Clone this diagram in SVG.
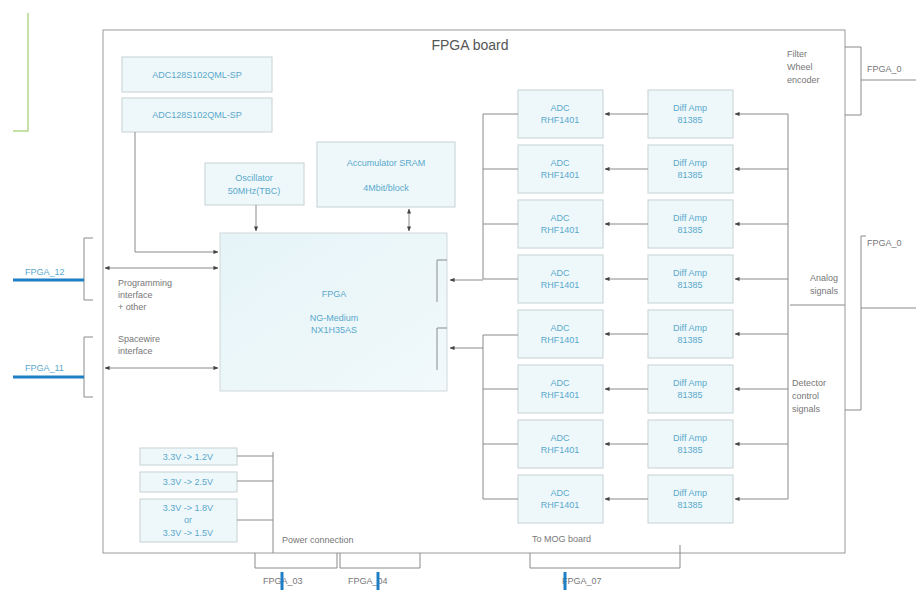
<svg xmlns="http://www.w3.org/2000/svg" width="916" height="590" viewBox="0 0 916 590">
<style>
.box{fill:#eef8fa;stroke:#c6d2d5;stroke-width:1}
.bt{font-family:"Liberation Sans",Arial,sans-serif;font-size:9px;fill:#5aa8cc;text-anchor:middle}
.lbl{font-family:"Liberation Sans",Arial,sans-serif;font-size:9px;fill:#777}
.ln{fill:none;stroke:#8a8a8a;stroke-width:1}
.blue{fill:none;stroke:#1f7fc4;stroke-width:3}
</style>
<defs>
<marker id="ah" viewBox="0 0 6 6" refX="5.5" refY="3" markerWidth="5" markerHeight="5" orient="auto-start-reverse">
<path d="M0,0.5 L6,3 L0,5.5 Z" fill="#444"/>
</marker>
<linearGradient id="fg" x1="0" y1="0" x2="1" y2="1">
<stop offset="0" stop-color="#e6f4f7"/>
<stop offset="1" stop-color="#f1f9fb"/>
</linearGradient>
</defs>
<rect width="916" height="590" fill="#fff"/>
<g id="board">
<rect x="103" y="30" width="742" height="523" fill="none" stroke="#9a9a9a" stroke-width="1"/>
<text x="470" y="50" font-family="'Liberation Sans',Arial,sans-serif" font-size="14" fill="#555" text-anchor="middle">FPGA board</text>
</g>
<g id="adc128a"><rect class="box" x="122" y="57" width="150" height="35"/><text class="bt" x="197" y="78">ADC128S102QML-SP</text></g>
<g id="adc128b"><rect class="box" x="122" y="98" width="150" height="34"/><text class="bt" x="197" y="118">ADC128S102QML-SP</text></g>
<g id="osc"><rect class="box" x="205" y="163" width="99" height="42"/><text class="bt" x="254" y="181">Oscillator</text><text class="bt" x="254" y="194">50MHz(TBC)</text></g>
<g id="sram"><rect class="box" x="317" y="142" width="138" height="65"/><text class="bt" x="386" y="166">Accumulator SRAM</text><text class="bt" x="386" y="191">4Mbit/block</text></g>
<g id="fpga"><rect x="220" y="233" width="227" height="158" fill="url(#fg)" stroke="#cfd8da"/><text class="bt" x="334" y="297">FPGA</text><text class="bt" x="334" y="321">NG-Medium</text><text class="bt" x="334" y="333">NX1H35AS</text></g>
<g id="adcs">
<g id="adc1"><rect class="box" x="518" y="90" width="85" height="48"/><text class="bt" x="560" y="111">ADC</text><text class="bt" x="560" y="123">RHF1401</text></g>
<g id="adc2"><rect class="box" x="518" y="145" width="85" height="48"/><text class="bt" x="560" y="166">ADC</text><text class="bt" x="560" y="178">RHF1401</text></g>
<g id="adc3"><rect class="box" x="518" y="200" width="85" height="48"/><text class="bt" x="560" y="221">ADC</text><text class="bt" x="560" y="233">RHF1401</text></g>
<g id="adc4"><rect class="box" x="518" y="255" width="85" height="48"/><text class="bt" x="560" y="276">ADC</text><text class="bt" x="560" y="288">RHF1401</text></g>
<g id="adc5"><rect class="box" x="518" y="310" width="85" height="48"/><text class="bt" x="560" y="331">ADC</text><text class="bt" x="560" y="343">RHF1401</text></g>
<g id="adc6"><rect class="box" x="518" y="365" width="85" height="48"/><text class="bt" x="560" y="386">ADC</text><text class="bt" x="560" y="398">RHF1401</text></g>
<g id="adc7"><rect class="box" x="518" y="420" width="85" height="48"/><text class="bt" x="560" y="441">ADC</text><text class="bt" x="560" y="453">RHF1401</text></g>
<g id="adc8"><rect class="box" x="518" y="475" width="85" height="48"/><text class="bt" x="560" y="496">ADC</text><text class="bt" x="560" y="508">RHF1401</text></g>
</g>
<g id="amps">
<g id="amp1"><rect class="box" x="648" y="90" width="85" height="48"/><text class="bt" x="690" y="111">Diff Amp</text><text class="bt" x="690" y="123">81385</text></g>
<g id="amp2"><rect class="box" x="648" y="145" width="85" height="48"/><text class="bt" x="690" y="166">Diff Amp</text><text class="bt" x="690" y="178">81385</text></g>
<g id="amp3"><rect class="box" x="648" y="200" width="85" height="48"/><text class="bt" x="690" y="221">Diff Amp</text><text class="bt" x="690" y="233">81385</text></g>
<g id="amp4"><rect class="box" x="648" y="255" width="85" height="48"/><text class="bt" x="690" y="276">Diff Amp</text><text class="bt" x="690" y="288">81385</text></g>
<g id="amp5"><rect class="box" x="648" y="310" width="85" height="48"/><text class="bt" x="690" y="331">Diff Amp</text><text class="bt" x="690" y="343">81385</text></g>
<g id="amp6"><rect class="box" x="648" y="365" width="85" height="48"/><text class="bt" x="690" y="386">Diff Amp</text><text class="bt" x="690" y="398">81385</text></g>
<g id="amp7"><rect class="box" x="648" y="420" width="85" height="48"/><text class="bt" x="690" y="441">Diff Amp</text><text class="bt" x="690" y="453">81385</text></g>
<g id="amp8"><rect class="box" x="648" y="475" width="85" height="48"/><text class="bt" x="690" y="496">Diff Amp</text><text class="bt" x="690" y="508">81385</text></g>
</g>
<g id="pwr1"><rect class="box" x="140" y="448" width="97" height="17"/><text class="bt" x="188" y="460">3.3V -&gt; 1.2V</text></g>
<g id="pwr2"><rect class="box" x="140" y="472" width="97" height="20"/><text class="bt" x="188" y="485">3.3V -&gt; 2.5V</text></g>
<g id="pwr3"><rect class="box" x="140" y="499" width="97" height="43"/><text class="bt" x="188" y="511">3.3V -&gt; 1.8V</text><text class="bt" x="188" y="523">or</text><text class="bt" x="188" y="536">3.3V -&gt; 1.5V</text></g>
<g id="labels">
<text class="lbl" x="118" y="286">Programming</text>
<text class="lbl" x="118" y="298">interface</text>
<text class="lbl" x="118" y="310">+ other</text>
<text class="lbl" x="118" y="342">Spacewire</text>
<text class="lbl" x="118" y="354">interface</text>
<text class="lbl" x="787" y="57">Filter</text>
<text class="lbl" x="787" y="70">Wheel</text>
<text class="lbl" x="787" y="83">encoder</text>
<text class="lbl" x="838" y="281" text-anchor="end">Analog</text>
<text class="lbl" x="838" y="294" text-anchor="end">signals</text>
<text class="lbl" x="792" y="386">Detector</text>
<text class="lbl" x="792" y="399">control</text>
<text class="lbl" x="792" y="412">signals</text>
<text class="lbl" x="282" y="543">Power connection</text>
<text class="lbl" x="532" y="542">To MOG board</text>
<text class="lbl" x="867" y="72">FPGA_0</text>
<text class="lbl" x="867" y="246">FPGA_0</text>
<text class="lbl" x="25" y="275" style="fill:#5aa8cc">FPGA_12</text>
<text class="lbl" x="25" y="371" style="fill:#5aa8cc">FPGA_11</text>
<text class="lbl" x="263" y="584">FPGA_03</text>
<text class="lbl" x="348" y="584">FPGA_04</text>
<text class="lbl" x="562" y="584">FPGA_07</text>
</g>
<g id="connectors">
<path class="ln" d="M135,132 V252 H218" marker-end="url(#ah)"/>
<path class="ln" d="M256,205 V231" marker-end="url(#ah)"/>
<path class="ln" d="M409,209 V231" marker-start="url(#ah)" marker-end="url(#ah)"/>
<path class="ln" d="M105,268 H218" marker-start="url(#ah)" marker-end="url(#ah)"/>
<path class="ln" d="M105,368 H218" marker-start="url(#ah)" marker-end="url(#ah)"/>
<path class="ln" d="M447,260 H437 V302"/>
<path class="ln" d="M447,328 H437 V370"/>
<path class="ln" d="M518,114 H483 V279 H518 M483,169 H518 M483,224 H518"/>
<path class="ln" d="M483,280 H450" marker-end="url(#ah)"/>
<path class="ln" d="M518,335 H483 V499 H518 M483,389 H518 M483,444 H518"/>
<path class="ln" d="M483,348 H450" marker-end="url(#ah)"/>
<path class="ln" d="M648,114 H605" marker-end="url(#ah)"/>
<path class="ln" d="M648,169 H605" marker-end="url(#ah)"/>
<path class="ln" d="M648,224 H605" marker-end="url(#ah)"/>
<path class="ln" d="M648,279 H605" marker-end="url(#ah)"/>
<path class="ln" d="M648,334 H605" marker-end="url(#ah)"/>
<path class="ln" d="M648,389 H605" marker-end="url(#ah)"/>
<path class="ln" d="M648,444 H605" marker-end="url(#ah)"/>
<path class="ln" d="M648,499 H605" marker-end="url(#ah)"/>
<path class="ln" d="M788,114 V499"/>
<path class="ln" d="M788,114 H735" marker-end="url(#ah)"/>
<path class="ln" d="M788,169 H735" marker-end="url(#ah)"/>
<path class="ln" d="M788,224 H735" marker-end="url(#ah)"/>
<path class="ln" d="M788,279 H735" marker-end="url(#ah)"/>
<path class="ln" d="M788,334 H735" marker-end="url(#ah)"/>
<path class="ln" d="M788,389 H735" marker-end="url(#ah)"/>
<path class="ln" d="M788,444 H735" marker-end="url(#ah)"/>
<path class="ln" d="M788,499 H735" marker-end="url(#ah)"/>
<path class="ln" d="M790,305 H845"/>
<path class="ln" d="M93,238 H84 V300 H93"/>
<path class="ln" d="M93,337 H84 V397 H93"/>
<path class="ln" d="M845,47 H861 V115 H845"/>
<path class="ln" d="M861,80 H916"/>
<path class="ln" d="M866,236 H861 V410 H845"/>
<path class="ln" d="M861,308 H916"/>
<path class="ln" d="M237,456 H273 M237,481 H273 M237,520 H273 M273,452 V553"/>
<path class="ln" d="M255,553 V568 H337 V553"/>
<path class="ln" d="M340,553 V568 H420 V553"/>
<path class="ln" d="M530,553 V568 H680 V545"/>
<path d="M28,13 V131 H13" fill="none" stroke="#b5d98a" stroke-width="1.5"/>
<path class="blue" d="M13,280 H84"/>
<path class="blue" d="M13,377 H84"/>
<path class="blue" d="M282,572 V590"/>
<path class="blue" d="M378,572 V590"/>
<path class="blue" d="M565,572 V590"/>
</g>
</svg>
